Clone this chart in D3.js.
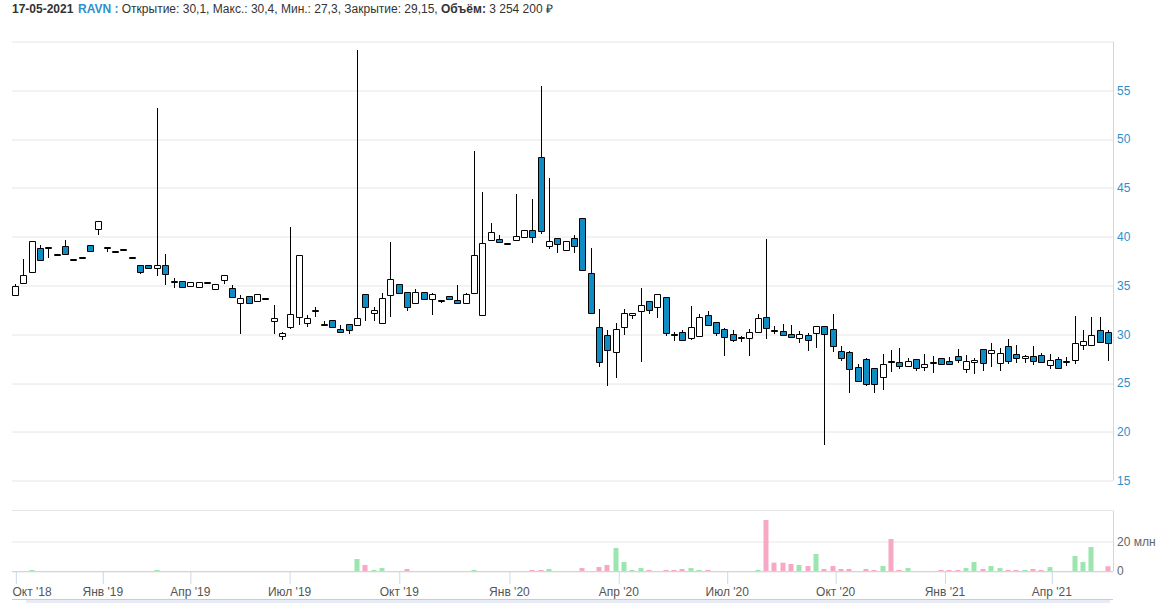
<!DOCTYPE html>
<html><head><meta charset="utf-8">
<script src="https://cdn.jsdelivr.net/npm/d3@7/dist/d3.min.js"></script>
<style>
body{margin:0;background:#fff;}
svg{display:block;font-family:"Liberation Sans",Arial,sans-serif;}
</style>
</head><body>
<svg id="c" width="1165" height="603"></svg>
<script>
// ---- data (weekly candles, RAVN) ----
const opens  = [34.0,35.3,36.4,38.7,38.8,38.1,38.9,37.6,37.8,39.0,40.8,38.8,38.45,38.66,37.8,37.0,37.0,36.8,37.0,35.4,
35.35,35.0,34.85,35.24,34.62,35.55,34.62,33.18,33.8,33.4,33.6,31.34,29.8,30.72,31.74,31.13,32.35,30.92,31.33,30.41,
30.92,30.92,33.99,32.15,31.13,33.99,35.02,34.2,33.17,34.2,33.58,33.4,33.8,33.4,33.2,34.2,32.0,39.66,39.66,39.25,
39.66,39.97,40.58,48.05,39.04,39.76,38.63,39.76,41.81,36.18,30.65,29.83,28.19,30.7,31.93,32.34,33.26,32.75,33.77,29.9,
30.09,29.57,29.78,31.83,31.11,30.39,29.88,29.57,29.57,30.19,31.72,30.32,30.2,29.9,29.59,29.8,30.1,30.72,30.41,28.16,
28.05,26.52,27.34,26.42,25.6,27.15,27.03,26.72,27.34,26.61,27.03,27.43,27.12,27.64,26.4,27.21,28.36,28.05,27.02,28.66,
27.84,27.62,27.64,27.74,26.82,27.33,27.12,27.33,28.87,28.87,30.31,30.1];
const highs  = [35.2,37.7,39.5,39.1,38.85,38.1,39.7,37.6,37.8,39.0,41.5,38.8,38.45,38.66,37.8,37.0,37.0,53.2,38.25,35.75,
35.35,35.25,35.27,35.24,35.07,35.96,35.07,34.0,33.8,34.0,33.6,32.98,30.2,41.0,38.0,31.95,32.76,31.33,31.33,30.92,
30.92,59.18,33.99,32.76,34.2,39.45,35.02,34.2,34.6,34.2,34.2,33.4,33.8,35.05,34.2,48.8,44.57,41.4,40.17,39.25,
44.37,40.58,43.86,55.43,46.0,39.76,39.45,40.17,41.81,38.84,32.6,30.44,31.16,32.58,32.13,34.7,33.26,33.98,33.77,30.19,
30.39,32.95,32.03,32.34,31.11,30.6,30.39,29.78,30.5,32.03,39.8,30.8,31.02,30.92,30.31,30.1,30.82,30.72,32.05,28.77,
28.26,26.93,27.54,26.42,27.95,28.36,28.6,27.54,27.34,27.95,27.75,27.43,27.64,28.46,27.84,27.53,28.36,29.08,28.56,29.49,
28.87,27.84,28.77,28.05,27.95,27.64,27.64,31.88,30.45,31.78,31.78,30.4];
const lows   = [34.0,35.3,36.4,37.6,37.8,38.1,38.2,37.6,37.8,38.4,40.2,38.4,38.45,38.66,37.8,36.2,36.8,36.0,35.1,34.7,
34.85,35.0,34.85,35.24,34.62,35.14,33.8,30.0,33.18,33.4,33.6,30.0,29.45,30.5,31.0,30.7,31.8,30.92,30.72,30.2,
30.07,30.92,31.37,31.33,31.13,31.8,34.2,32.42,33.17,33.58,32.0,33.2,33.6,33.1,33.2,34.2,32.0,39.56,39.45,39.25,
39.66,39.9,39.35,40.27,38.74,38.33,38.53,38.33,36.45,32.08,26.66,24.71,25.53,29.88,31.52,27.12,32.03,31.62,29.78,29.27,
29.37,29.37,29.78,30.9,29.78,27.76,29.16,29.16,27.8,30.09,29.47,30.07,29.9,29.69,29.08,28.26,28.63,18.63,28.16,27.24,
24.03,25.19,24.68,24.03,24.33,26.11,26.42,26.62,26.2,26.2,26.0,26.82,26.92,27.02,25.99,25.89,26.2,26.61,26.2,26.92,
27.02,27.02,26.82,27.12,26.4,26.51,26.71,26.92,28.36,28.87,29.18,27.3];
const closes = [34.8,36.0,39.5,37.6,38.8,38.1,38.2,37.6,37.8,38.5,41.5,38.8,38.45,38.66,37.8,36.4,36.8,37.0,36.2,35.4,
34.85,35.25,35.27,35.24,35.07,35.96,33.8,33.6,33.18,34.0,33.6,31.54,30.0,31.95,38.0,31.54,32.35,30.92,30.72,30.2,
30.41,31.54,32.76,32.35,33.58,35.53,34.2,32.76,34.2,33.58,33.99,33.4,33.6,33.2,34.0,38.0,39.25,40.38,39.45,39.25,
39.97,40.58,39.97,40.58,39.45,39.25,39.45,39.04,36.59,32.19,27.17,28.4,30.44,32.13,32.13,32.95,32.44,33.98,30.09,29.88,
29.37,30.6,31.72,31.0,30.09,29.68,29.37,29.57,30.09,31.52,30.6,30.3,29.9,29.69,29.9,29.39,30.72,30.0,28.77,27.54,
26.42,25.19,24.88,24.88,26.83,27.13,26.72,27.13,26.52,26.82,27.03,26.92,26.92,27.33,27.12,27.23,27.02,28.25,27.95,27.23,
27.53,27.64,27.23,27.12,27.23,26.51,27.12,28.97,29.18,29.79,29.18,29.15];
// volume, millions
const volumes = [0,0,0.7,0,0,0,0,0,0,0,0,0,0,0,0,0,0,0.7,0,0,
0,0,0,0,0,0,0,0,0,0,0,0,0,0,0,0,0,0,0,0,
0,8.2,4.1,0.7,2.0,0,0,1.4,0,0,0,0,0,0,0,0.7,0,0,0,0,
0,0,0.7,0.7,1.4,0,0,0,2.0,0,2.7,4.1,15.7,6.1,0.7,2.0,0.7,0,0.7,0.7,
1.4,2.0,0.7,0.7,0,0,0,0,0,0.7,34.8,5.7,5.7,4.8,4.1,3.4,11.6,1.4,3.4,1.4,
1.4,0,1.4,0.7,3.4,21.8,0.7,2.0,0,0,0,0.7,0.7,0.7,2.0,6.1,1.4,3.4,2.0,0.7,
0.7,0.7,1.4,0.7,2.7,0,0,10.2,6.1,16.4,0,3.25];
const tickLabels = ["Окт '18","Янв '19","Апр '19","Июл '19","Окт '19","Янв '20","Апр '20","Июл '20","Окт '20","Янв '21","Апр '21"];
const tickIndex  = [0.04,10.46,20.96,32.85,46.0,59.2,72.3,85.3,98.3,111.4,124.2];
const priceTicks = [15,20,25,30,35,40,45,50,55];
const priceGrid  = [15,20,25,30,35,40,45,50,55,60];
const volumeTicks = [0,20];

// ---- layout ----
const svg = d3.select("#c");
const L = 12, R = 1113;
const x  = d3.scaleLinear().domain([-0.36, 131.6]).range([L, R]);
const y  = d3.scaleLinear().domain([15, 60]).range([480.7, 41.5]);
const yv = d3.scaleLinear().domain([0, 20]).range([571, 541.7]);
const volTop = 510.5;
const crisp = v => Math.floor(v) + 0.5;

const blue = "#0f8cc4", green = "#9be6ae", pink = "#f7a8c4";
const gridC = "#e6e6e6", axisC = "#ccd6eb";

// header
const hdr = svg.append("text").attr("x", 12).attr("y", 13).attr("font-size", 12).attr("fill", "#333");
hdr.append("tspan").attr("font-weight", "bold").text("17-05-2021");
hdr.append("tspan").attr("x", 78).attr("font-weight", "bold").attr("fill", "#2f8fcb").text("RAVN :");
hdr.append("tspan").text(" Открытие: 30,1, Макс.: 30,4, Мин.: 27,3, Закрытие: 29,15, ");
hdr.append("tspan").attr("font-weight", "bold").text("Объём:");
hdr.append("tspan").text(" 3 254 200 ₽");

// price grid
const gGrid = svg.append("g").attr("transform", `translate(${R},0)`)
  .call(d3.axisLeft(y).tickValues(priceGrid).tickSize(R - L).tickFormat(""));
gGrid.select(".domain").remove();
gGrid.selectAll("line").attr("stroke", gridC)
  .attr("transform", d => `translate(0,${crisp(y(d)) - y(d)})`);

// price axis labels
const gY = svg.append("g").attr("transform", `translate(${R},0)`)
  .call(d3.axisRight(y).tickValues(priceTicks).tickSize(0).tickPadding(4));
gY.select(".domain").attr("stroke", axisC).attr("d", `M0.5,${crisp(y(60))}V${crisp(y(15))}`);
gY.selectAll("text").attr("fill", "#2f8fcb").attr("font-size", 12).attr("font-family", "Liberation Sans, Arial, sans-serif");

// volume grid
const gVG = svg.append("g").attr("transform", `translate(${R},0)`)
  .call(d3.axisLeft(yv).tickValues(volumeTicks).tickSize(R - L).tickFormat(""));
gVG.select(".domain").remove();
gVG.selectAll("line").attr("stroke", gridC).attr("transform", d => `translate(0,${crisp(yv(d)) - yv(d)})`);
svg.append("line").attr("x1", L).attr("x2", R).attr("y1", crisp(volTop)).attr("y2", crisp(volTop)).attr("stroke", gridC);

const gV = svg.append("g").attr("transform", `translate(${R},0)`)
  .call(d3.axisRight(yv).tickValues(volumeTicks).tickSize(0).tickPadding(4)
    .tickFormat(d => d === 0 ? "0" : d + " млн"));
gV.select(".domain").attr("stroke", axisC).attr("d", `M0.5,${crisp(volTop)}V${crisp(yv(0))}`);
gV.selectAll("text").attr("fill", "#666").attr("font-size", 12).attr("font-family", "Liberation Sans, Arial, sans-serif");

// volume bars
const idx = d3.range(opens.length);
svg.append("g").selectAll("rect").data(idx.filter(i => volumes[i] > 0)).join("rect")
  .attr("x", i => Math.round(x(i)) - 2.5)
  .attr("width", 5)
  .attr("y", i => yv(volumes[i]))
  .attr("height", i => yv(0) - yv(volumes[i]))
  .attr("fill", i => closes[i] >= opens[i] ? green : pink);

// candles
const gC = svg.append("g");
gC.selectAll("path.wick").data(idx).join("path").attr("class", "wick")
  .attr("d", i => { const c = Math.round(x(i)) + 0.5; return `M${c},${Math.round(y(highs[i]))}V${Math.round(y(lows[i]))}`; })
  .attr("stroke", "#000").attr("stroke-width", 1).attr("fill", "none");
gC.selectAll("path.body").data(idx).join("path").attr("class", "body")
  .attr("d", i => {
    const c = Math.round(x(i));
    const t = Math.round(y(Math.max(opens[i], closes[i]))) - 0.5;
    let b = Math.round(y(Math.min(opens[i], closes[i]))) + 0.5;
    if (b - t < 1) b = t + 1;
    return `M${c - 2.5},${t}H${c + 3.5}V${b}H${c - 2.5}Z`;
  })
  .attr("fill", i => closes[i] < opens[i] ? blue : "#fff")
  .attr("stroke", "#000").attr("stroke-width", 1);

// x axis
const gX = svg.append("g").attr("transform", "translate(0,571)")
  .call(d3.axisBottom(x).tickValues(tickIndex).tickFormat((d, i) => tickLabels[i]).tickSize(13).tickSizeOuter(0).tickPadding(3));
gX.select(".domain").attr("stroke", axisC).attr("d", `M${L},0.5H${R}`);
gX.selectAll(".tick line").attr("stroke", axisC).attr("transform", "translate(0.5,0)");
gX.selectAll("text").attr("fill", "#555").attr("font-size", 12).attr("font-family", "Liberation Sans, Arial, sans-serif");
gX.selectAll(".tick").each(function (d) {
  const t = d3.select(this).select("text");
  const w = t.node().getComputedTextLength();
  const cx = x(d);
  if (cx - w / 2 < L) t.attr("text-anchor", "start").attr("x", L - cx);
});

// navigator strip at bottom
svg.append("line").attr("x1", L).attr("x2", R).attr("y1", 599.5).attr("y2", 599.5).attr("stroke", "#cccccc");
svg.append("rect").attr("x", 26).attr("y", 600).attr("width", 1084).attr("height", 3).attr("fill", "#e6ebf5");
</script>
</body></html>
